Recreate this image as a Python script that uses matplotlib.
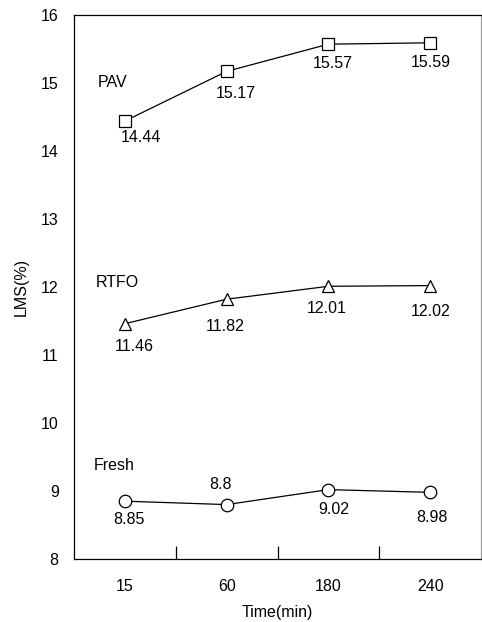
import matplotlib
matplotlib.use("Agg")
import matplotlib.pyplot as plt

plt.rcParams['font.family'] = ['Liberation Sans', 'DejaVu Sans']

times = ["15", "60", "180", "240"]
pav = [14.44, 15.17, 15.57, 15.59]
rtfo = [11.46, 11.82, 12.01, 12.02]
fresh = [8.85, 8.8, 9.02, 8.98]
series_names = ["PAV", "RTFO", "Fresh"]

# label offsets in pixels (dx, dy) relative to each marker
pav_offsets = [(16, -16), (9, -22), (4, -19), (1, -20)]
rtfo_offsets = [(9, -23), (-1, -27), (-2, -22), (0, -26)]
fresh_offsets = [(4, -18), (-6, 20), (5, -20), (2, -25)]

FS = 11.5

fig = plt.figure(figsize=(4.82, 6.22), dpi=100)
ax = fig.add_axes([0.1535, 0.1013, 0.8445, 0.8747])

x = [i + 0.5 for i in range(len(times))]

for vals, marker, offs in [(pav, "s", pav_offsets),
                           (rtfo, "^", rtfo_offsets),
                           (fresh, "o", fresh_offsets)]:
    ax.plot(x, vals, color="black", linewidth=0.9, marker=marker,
            markersize=9, markerfacecolor="white", markeredgecolor="black",
            markeredgewidth=0.9)
    for xi, v, (dx, dy) in zip(x, vals, offs):
        ax.annotate(f"{v:g}", (xi, v), xytext=(dx / 1.389, dy / 1.389),
                    textcoords="offset points", ha="center", va="center",
                    fontsize=FS)

ax.text(0.23, 15.0, series_names[0], fontsize=FS, va="center")
ax.text(0.21, 12.07, series_names[1], fontsize=FS, va="center")
ax.text(0.19, 9.37, series_names[2], fontsize=FS, va="center")

ax.set_xlim(0, 4)
ax.set_ylim(8, 16)
ax.set_yticks(range(8, 17))
ax.tick_params(axis="y", length=0, pad=11, labelsize=FS)

ax.set_xticks([1, 2, 3])
ax.set_xticklabels([])
ax.set_xticks(x, minor=True)
ax.set_xticklabels(times, minor=True)
ax.tick_params(axis="x", which="major", direction="in", length=9.4, width=0.9)
ax.tick_params(axis="x", which="minor", length=0, pad=14.5, labelsize=FS)

for s in ax.spines.values():
    s.set_linewidth(0.9)
ax.spines["right"].set_color("#999999")

ax.set_xlabel("Time(min)", fontsize=FS)
ax.xaxis.set_label_coords(0.5, -0.085)
ax.set_ylabel("LMS(%)", fontsize=FS)
ax.yaxis.set_label_coords(-0.112, 0.5)

fig.savefig("out.png", dpi=100)
